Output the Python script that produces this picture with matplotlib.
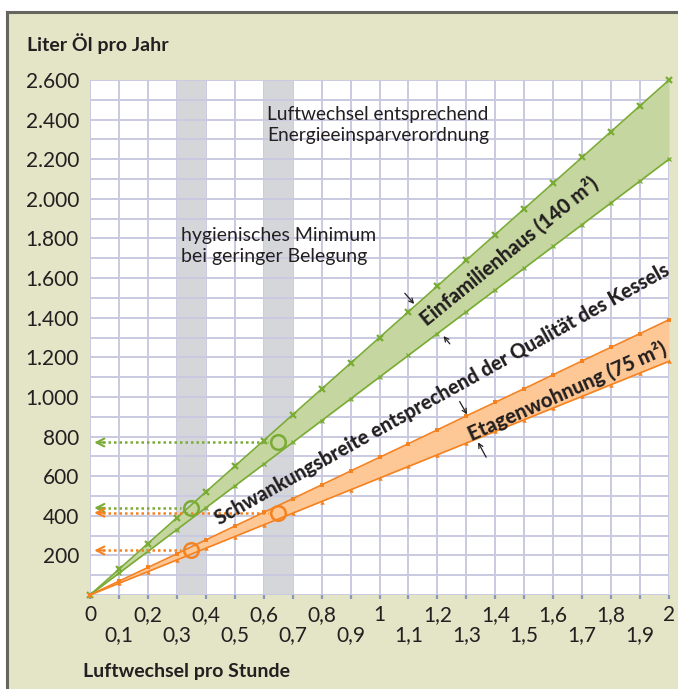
import matplotlib
matplotlib.use("Agg")
import matplotlib.pyplot as plt
import matplotlib.patches as mpatches
import matplotlib.lines as mlines

# ---------------- data ----------------
x_vals = [0.0, 0.1, 0.2, 0.3, 0.4, 0.5, 0.6, 0.7, 0.8, 0.9, 1.0,
          1.1, 1.2, 1.3, 1.4, 1.5, 1.6, 1.7, 1.8, 1.9, 2.0]
efh_upper = [0, 130, 260, 390, 520, 650, 780, 910, 1040, 1170, 1300,
             1430, 1560, 1690, 1820, 1950, 2080, 2210, 2340, 2470, 2600]
efh_lower = [0, 110, 220, 330, 440, 550, 660, 770, 880, 990, 1100,
             1210, 1320, 1430, 1540, 1650, 1760, 1870, 1980, 2090, 2200]
etw_upper = [0, 70, 139, 208, 278, 348, 417, 486, 556, 626, 695,
             764, 834, 904, 973, 1042, 1112, 1182, 1251, 1320, 1390]
etw_lower = [0, 59, 118, 177, 236, 295, 354, 413, 472, 531, 590,
             649, 708, 767, 826, 885, 944, 1003, 1062, 1121, 1180]

band_ranges = [(0.3, 0.4), (0.6, 0.7)]
efh_points_x = [0.35, 0.65]
efh_points_y = [440, 770]
etw_points_x = [0.35, 0.65]
etw_points_y = [225, 415]

y_ticks = [200, 400, 600, 800, 1000, 1200, 1400, 1600, 1800, 2000, 2200, 2400, 2600]
y_labels = ["200", "400", "600", "800", "1.000", "1.200", "1.400", "1.600",
            "1.800", "2.000", "2.200", "2.400", "2.600"]
x_labels = ["0", "0,1", "0,2", "0,3", "0,4", "0,5", "0,6", "0,7", "0,8", "0,9", "1",
            "1,1", "1,2", "1,3", "1,4", "1,5", "1,6", "1,7", "1,8", "1,9", "2"]

# ---------------- style ----------------
FONT = "Lato"
BG = "#e4e4c7"
GRID = "#c9c9e0"
GREEN_LINE = "#7aab35"
GREEN_FILL = "#c5d6a0"
ORANGE_LINE = "#f58220"
ORANGE_FILL = "#fdc896"
GRAYBAND = "#d5d6da"
TXT = "#231f20"

plt.rcParams["font.family"] = [FONT, "DejaVu Sans"]

W, H = 678, 689
fig = plt.figure(figsize=(W / 100, H / 100), dpi=100, facecolor="white")

# beige panel with top/left border
fig.patches.append(mpatches.Rectangle((7 / W, 0), 1 - 7 / W, 1 - 12 / H,
                                      transform=fig.transFigure, facecolor=BG,
                                      edgecolor="none", zorder=-10))
fig.lines.append(mlines.Line2D([7 / W, 1], [1 - 12 / H, 1 - 12 / H],
                               transform=fig.transFigure, color="#66665e", lw=2.2, zorder=-5))
fig.lines.append(mlines.Line2D([7 / W, 7 / W], [0, 1 - 12 / H],
                               transform=fig.transFigure, color="#66665e", lw=2.2, zorder=-5))

ax = fig.add_axes([90 / W, (H - 595) / H, (669 - 90) / W, (595 - 80) / H])
ax.set_facecolor("white")
ax.set_xlim(0, 2)
ax.set_ylim(0, 2600)

# grid
for xv in x_vals:
    ax.axvline(xv, color=GRID, lw=1.4, zorder=1)
for a, b in band_ranges:
    ax.axvspan(a, b, color=GRAYBAND, zorder=1.2, lw=0)
for yv in range(0, 2700, 100):
    ax.axhline(yv, color=GRID, lw=1.4, zorder=1.5)

# bands
ax.fill_between(x_vals, efh_lower, efh_upper, color=GREEN_FILL, lw=0, zorder=2)
ax.fill_between(x_vals, etw_lower, etw_upper, color=ORANGE_FILL, lw=0, zorder=2)
ax.plot(x_vals, efh_upper, color=GREEN_LINE, lw=1.2, marker="x", ms=4, mew=1.6, zorder=3, clip_on=False)
ax.plot(x_vals, efh_lower, color=GREEN_LINE, lw=1.2, marker="x", ms=3.5, mew=0.9, zorder=3, clip_on=False)
ax.plot(x_vals, etw_upper, color=ORANGE_LINE, lw=1.2, marker="s", ms=2.6, mew=0, zorder=3, clip_on=False)
ax.plot(x_vals, etw_lower, color=ORANGE_LINE, lw=1.2, marker="^", ms=3.2, mew=0, zorder=3, clip_on=False)

# dotted reading lines with arrows
for px, py in zip(efh_points_x, efh_points_y):
    ax.plot([0.025, px - 0.035], [py, py], color=GREEN_LINE, lw=1.8, ls=(0, (1, 1.2)), zorder=4)
    ax.annotate("", xy=(0.005, py), xytext=(0.06, py),
                arrowprops=dict(arrowstyle="->", color=GREEN_LINE, lw=1.5, mutation_scale=14),
                zorder=4)
for px, py in zip(etw_points_x, etw_points_y):
    ax.plot([0.025, px - 0.035], [py, py], color=ORANGE_LINE, lw=1.8, ls=(0, (1, 1.2)), zorder=4)
    ax.annotate("", xy=(0.005, py), xytext=(0.06, py),
                arrowprops=dict(arrowstyle="->", color=ORANGE_LINE, lw=1.5, mutation_scale=14),
                zorder=4)
ax.plot(efh_points_x, efh_points_y, ls="none", marker="o", ms=10.5, mfc="none",
        mec=GREEN_LINE, mew=1.8, zorder=5)
ax.plot(etw_points_x, etw_points_y, ls="none", marker="o", ms=10.5, mfc="none",
        mec=ORANGE_LINE, mew=1.8, zorder=5)

# small black arrows
arrow_kw = dict(arrowstyle="->", color=TXT, lw=0.9, mutation_scale=8)
ax.annotate("", xy=(1.126, 1459), xytext=(1.081, 1534), arrowprops=arrow_kw, zorder=6)
ax.annotate("", xy=(1.215, 1318), xytext=(1.249, 1257), arrowprops=arrow_kw, zorder=6)
ax.annotate("", xy=(1.307, 900), xytext=(1.272, 989), arrowprops=arrow_kw, zorder=6)
ax.annotate("", xy=(1.336, 783), xytext=(1.373, 683), arrowprops=arrow_kw, zorder=6)

# annotations
ax.text(0.611, 2374, "Luftwechsel entsprechend\nEnergieeinsparverordnung",
        fontsize=13.8, color=TXT, ha="left", va="center", linespacing=1.3, zorder=6)
ax.text(0.314, 1763, "hygienisches Minimum\nbei geringer Belegung",
        fontsize=14, color=TXT, ha="left", va="center", linespacing=1.3, zorder=6)
ax.text(1.447, 1735, "Einfamilienhaus (140 m²)", fontsize=14.6, fontweight="black",
        color=TXT, rotation=39.1, rotation_mode="anchor", ha="center", va="center", zorder=6)
ax.text(1.216, 1016, "Schwankungsbreite entsprechend der Qualität des Kessels",
        fontsize=14.2, fontweight="black", color=TXT, rotation=29.1, rotation_mode="anchor",
        ha="center", va="center", zorder=6)
ax.text(1.648, 1031, "Etagenwohnung (75 m²)", fontsize=14.6, fontweight="black",
        color=TXT, rotation=24.0, rotation_mode="anchor", ha="center", va="center", zorder=6)

# axes
for s in ax.spines.values():
    s.set_visible(False)
ax.set_yticks(y_ticks)
ax.set_yticklabels(y_labels, fontsize=15, color=TXT)
ax.tick_params(axis="y", length=0, pad=8)
ax.set_xticks(x_vals)
ax.set_xticklabels([lab if i % 2 == 0 else "\n" + lab for i, lab in enumerate(x_labels)],
                   fontsize=15, color=TXT, linespacing=1.05)
ax.tick_params(axis="x", length=3, width=1.6, color="#8898b8", pad=4)

fig.text(27 / W, 1 - 44 / H, "Liter Öl pro Jahr", fontsize=14, fontweight="bold",
         color=TXT, ha="left", va="center")
fig.text(83 / W, 1 - 672 / H, "Luftwechsel pro Stunde", fontsize=14, fontweight="bold",
         color=TXT, ha="left", va="center")

fig.savefig("out.png", dpi=100, facecolor="white")
